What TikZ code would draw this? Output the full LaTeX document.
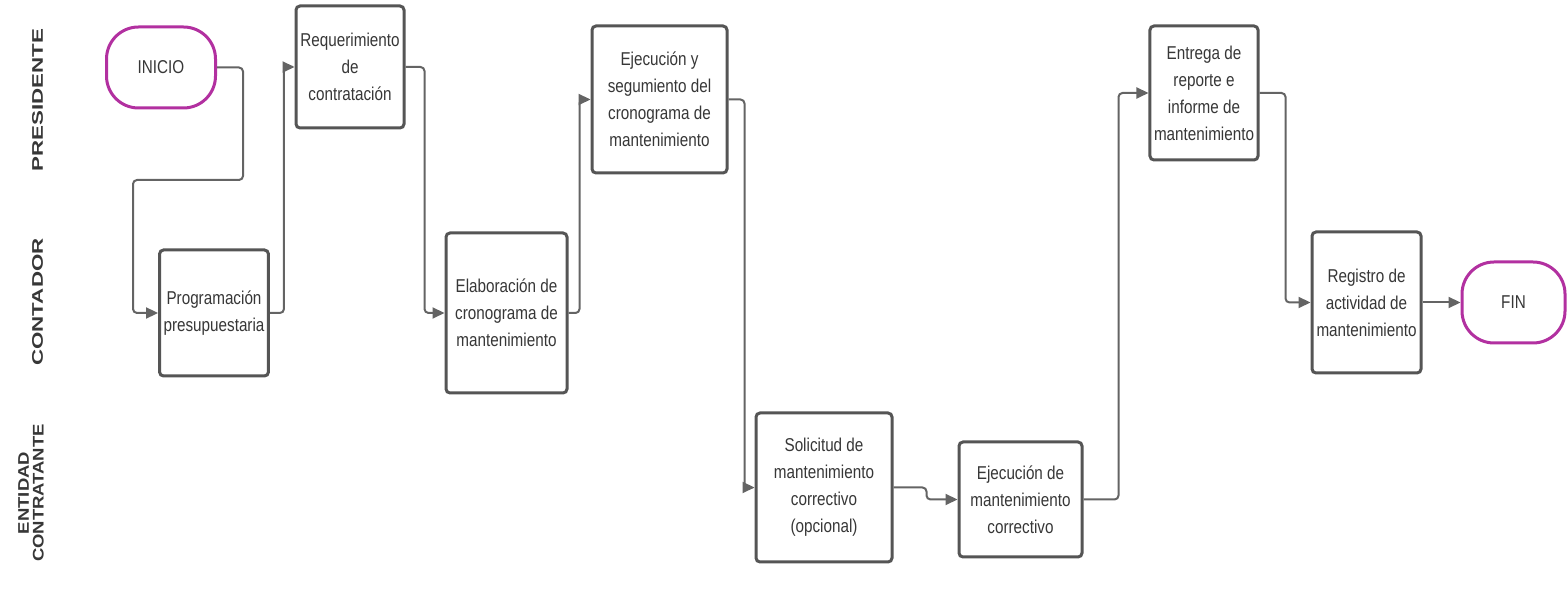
\documentclass[tikz,border=0pt]{standalone}
\usepackage{fontspec}
\setmainfont[FakeStretch=0.82]{Liberation Sans}
\newfontfamily\lanefont[FakeStretch=1.45]{Liberation Sans}
\newfontfamily\lanefontb[FakeStretch=1.2]{Liberation Sans}
\usetikzlibrary{arrows.meta}
\definecolor{boxgray}{RGB}{85,85,85}
\definecolor{linegray}{RGB}{100,100,100}
\definecolor{txtgray}{RGB}{55,55,55}
\definecolor{termmag}{RGB}{178,48,160}
\tikzset{
  stepbox/.style={draw=boxgray, line width=1.5pt, rounded corners=2pt, fill=white,
    align=center, inner sep=2pt, text=txtgray,
    font=\fontsize{9.3}{13.5}\selectfont},
  term/.style={draw=termmag, line width=1.5pt, rounded corners=16pt, fill=white,
    align=center, text=txtgray, font=\fontsize{9.3}{13.5}\selectfont},
  lane/.style={rotate=90, align=center, text=txtgray,
    font=\lanefont\bfseries\fontsize{7.7}{8.8}\selectfont},
  laneb/.style={rotate=90, align=center, text=txtgray,
    font=\lanefontb\bfseries\fontsize{7.7}{7.4}\selectfont},
  conn/.style={draw=linegray, line width=1pt, rounded corners=2pt,
    -{Triangle[length=6pt,width=5.5pt]}},
}
\begin{document}
\begin{tikzpicture}[x=0.5pt,y=-0.5pt]
\useasboundingbox (0,0) rectangle (1567,597);
% lane labels
\node[lane] (l1) at (37.5,100) {PRESIDENTE};
\node[lane] (l2) at (37.5,302) {CONTADOR};
\node[laneb] (l3) at (31,493) {ENTIDAD\\CONTRATANTE};
% nodes
\node[term, minimum width=54.5pt, minimum height=40.5pt] (ini) at (161,67.5) {INICIO};
\node[stepbox, minimum width=54pt, minimum height=63pt] (prog) at (214,313) {Programación\\presupuestaria};
\node[stepbox, minimum width=54pt, minimum height=61pt] (req) at (350,67) {Requerimiento\\de\\contratación};
\node[stepbox, minimum width=60.5pt, minimum height=80pt] (elab) at (506.5,313) {Elaboración de\\cronograma de\\mantenimiento};
\node[stepbox, minimum width=67.5pt, minimum height=73.5pt] (ejy) at (659.5,99.5) {Ejecución y\\segumiento del\\cronograma de\\mantenimiento};
\node[stepbox, minimum width=68pt, minimum height=74.5pt] (sol) at (824,487.5) {Solicitud de\\mantenimiento\\correctivo\\(opcional)};
\node[stepbox, minimum width=61.5pt, minimum height=57.5pt] (ejc) at (1020.5,499.5) {Ejecución de\\mantenimiento\\correctivo};
\node[stepbox, minimum width=54pt, minimum height=67pt] (ent) at (1204,93) {Entrega de\\reporte e\\informe de\\mantenimiento};
\node[stepbox, minimum width=54.5pt, minimum height=70.5pt] (reg) at (1366.5,302.5) {Registro de\\actividad de\\mantenimiento};
\node[term, minimum width=51.5pt, minimum height=40.5pt] (fin) at (1513.5,302.5) {FIN};
% bend points
\coordinate (b1) at (243,180);
\coordinate (b2) at (133,180);
% connectors
\draw[conn] (ini.east) -| (b1) -- (b2) |- (prog.west);
\draw[conn] (prog.east) -- ++(14,0) |- (req.west);
\draw[conn] (req.east) -- ++(19,0) |- (elab.west);
\draw[conn] (elab.east) -- ++(11,0) |- (ejy.west);
\draw[conn] (ejy.east) -- ++(16,0) |- (sol.west);
\draw[conn] (sol.east) -- ++(33,0) |- (ejc.west);
\draw[conn] (ejc.east) -- ++(35,0) |- (ent.west);
\draw[conn] (ent.east) -- ++(26,0) |- (reg.west);
\draw[conn] (reg.east) -- (fin.west);
\end{tikzpicture}
\end{document}
